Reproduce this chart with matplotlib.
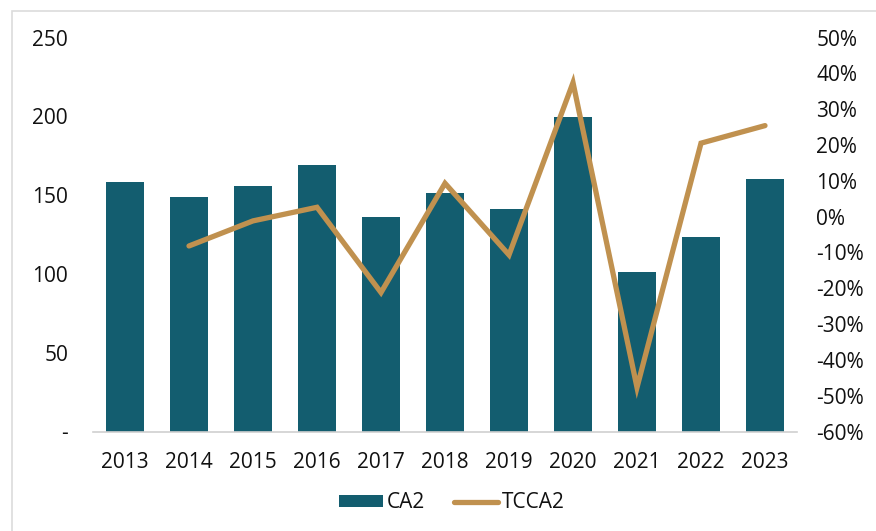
import matplotlib.pyplot as plt
import numpy as np
from matplotlib.patches import Rectangle

plt.rcParams['font.family'] = ['Open Sans', 'DejaVu Sans']

years = ['2013', '2014', '2015', '2016', '2017', '2018', '2019', '2020', '2021', '2022', '2023']
ca2 = [158, 149, 156, 169, 136, 151.5, 141, 199.5, 101, 123.5, 160]
tcca2 = [np.nan, -8.2, -1.2, 2.6, -21.2, 9.3, -10.7, 37.4, -47.7, 20.5, 25.4]

bar_color = '#135d6f'
line_color = '#c0914f'
text_color = '#111111'

fig = plt.figure(figsize=(8.76, 5.31), dpi=100)
fig.patches.append(Rectangle((12 / 876, -0.1), 1.2, 1 - 11 / 531 + 0.1,
                             transform=fig.transFigure, fill=False,
                             edgecolor='#dcdcdc', linewidth=1.2))

ax = fig.add_axes([93 / 876, 99.5 / 531, 704 / 876, 394 / 531])
x = np.arange(len(years))
ax.bar(x, ca2, width=0.6, color=bar_color, label='CA2', zorder=2)
ax.set_xlim(-0.5, len(years) - 0.5)
ax.set_ylim(0, 250)
ax.set_yticks([0, 50, 100, 150, 200, 250])
ax.set_yticklabels(['-', '50', '100', '150', '200', '250'])
ax.set_xticks(x)
ax.set_xticklabels(years)
for s in ['top', 'right', 'left']:
    ax.spines[s].set_visible(False)
ax.spines['bottom'].set_color('#d0d0d0')
ax.spines['bottom'].set_linewidth(1.2)
ax.tick_params(axis='y', length=0, pad=18, labelsize=15, labelcolor=text_color)
ax.tick_params(axis='x', length=0, pad=15, labelsize=15, labelcolor=text_color)

ax2 = ax.twinx()
ax2.plot(x, tcca2, color=line_color, linewidth=3.8, solid_capstyle='round',
         solid_joinstyle='miter', label='TCCA2', zorder=3)
ax2.set_ylim(-60, 50)
ax2.set_yticks(np.arange(-60, 51, 10))
ax2.set_yticklabels([f'{v}%' for v in range(-60, 51, 10)])
for s in ['top', 'right', 'left', 'bottom']:
    ax2.spines[s].set_visible(False)
ax2.tick_params(axis='y', length=0, pad=14, labelsize=15, labelcolor=text_color)

h1, l1 = ax.get_legend_handles_labels()
h2, l2 = ax2.get_legend_handles_labels()
fig.legend(h1 + h2, l1 + l2, loc='center', bbox_to_anchor=(452 / 876, 1 - 503 / 531),
           ncol=2, frameon=False, fontsize=15, handlelength=2.1, handleheight=0.55,
           columnspacing=1.4, handletextpad=0.2, labelcolor=text_color)

fig.savefig('out.png', dpi=100)
